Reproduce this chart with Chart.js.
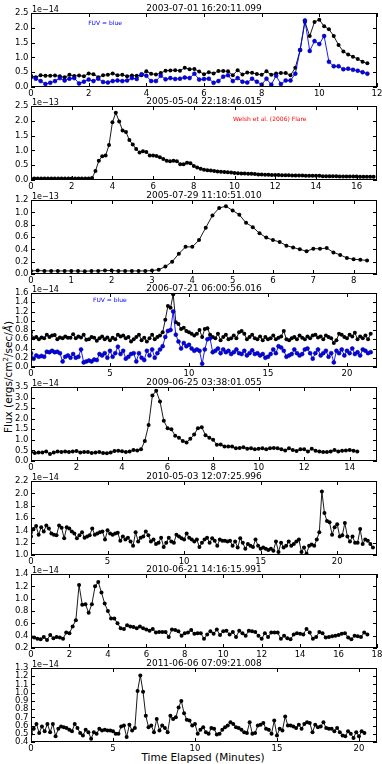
<!DOCTYPE html>
<html><head><meta charset="utf-8">
<script src="https://cdn.jsdelivr.net/npm/chart.js@4.4.1/dist/chart.umd.min.js"></script>
<style>
html,body{margin:0;padding:0;background:#fff}
body{width:382px;height:764px;overflow:hidden;position:relative;font-family:"DejaVu Sans",sans-serif}
canvas{position:absolute;left:0}
.axl{position:absolute;white-space:nowrap;font-size:10.5px;color:#000;transform:translate(-50%,-50%)}
.axl sup{font-size:7px;vertical-align:4px;line-height:0}
</style></head><body>
<div class="axl" style="left:203px;top:757px">Time Elapsed (Minutes)</div>
<div class="axl" style="left:8px;top:377px;transform:translate(-50%,-50%) rotate(-90deg)">Flux (ergs/cm<sup>2</sup>/sec/<i>Å</i>)</div>
<script>
// sampling cadence of the light curves (10 s bins), minutes
const CADENCE_MIN = 1/6;

const titles = ['2003-07-01 16:20:11.099','2005-05-04 22:18:46.015','2005-07-29 11:10:51.010','2006-07-21 06:00:56.016',
  '2009-06-25 03:38:01.055','2010-05-03 12:07:25.996','2010-06-21 14:16:15.991','2011-06-06 07:09:21.008'];
const offsetTexts = ['1e\u221214','1e\u221213','1e\u221213','1e\u221214','1e\u221214','1e\u221214','1e\u221214','1e\u221214'];

// Panel 1 (units 1e-14)
const p1NUV = [0.38,0.33,0.40,0.38,0.38,0.39,0.36,0.33,0.41,0.37,0.39,0.36,0.46,0.43,0.33,0.40,0.41,0.46,0.40,0.41,0.36,0.39,0.38,
  0.40,0.53,0.45,0.42,0.47,0.55,0.56,0.57,0.55,0.65,0.60,0.61,0.52,0.43,0.50,0.46,0.54,0.54,0.53,0.40,0.57,0.42,0.49,0.48,0.44,0.41,0.53,0.41,0.46,0.47,0.47,
  0.40,0.65,1.25,2.20,1.72,2.20,2.27,2.05,1.95,1.72,1.42,1.20,1.10,1.02,0.95,0.85,0.80];
const p1FUV = [0.33,0.28,0.20,0.10,0.14,0.20,0.30,0.22,0.28,0.30,0.12,0.18,0.25,0.20,0.28,0.17,0.15,0.20,0.22,0.20,0.22,0.30,0.27,
  0.43,0.38,0.20,0.20,0.38,0.26,0.30,0.27,0.28,0.32,0.30,0.45,0.25,0.27,0.28,0.14,0.20,0.35,0.40,0.20,0.30,0.18,0.15,0.28,0.18,0.08,0.28,0.08,0.38,0.10,0.22,
  0.22,0.45,1.25,2.25,1.22,1.55,1.45,1.72,0.85,0.70,0.70,0.60,0.62,0.58,0.55,0.50,0.45];
// Panel 2 (units 1e-13)
const p2NUV = [0.05,0.05,0.05,0.05,0.05,0.05,0.05,0.05,0.05,0.05,0.05,0.05,0.05,0.05,0.05,0.05,0.05,0.05,
  0.07,0.30,0.65,0.80,0.83,1.18,1.95,2.27,1.98,1.67,1.62,1.35,1.20,1.05,0.93,0.97,0.95,0.83,0.83,0.81,0.77,0.71,0.65,0.63,0.65,0.63,0.53,0.53,0.58,0.57,
  0.47,0.42,0.38,0.35,0.33,0.32, 0.30,0.29,0.28,0.27,0.26,0.25, 0.24,0.23,0.22,0.22,0.21,0.21,
  0.20,0.19,0.19,0.18,0.18,0.17, 0.17,0.17,0.16,0.16,0.16,0.15, 0.15,0.15,0.15,0.14,0.14,0.14,
  0.14,0.14,0.13,0.13,0.13,0.13, 0.13,0.12,0.12,0.12,0.12,0.12, 0.12,0.11,0.11,0.11,0.11,0.11];
// Panel 3 (units 1e-13)
const p3NUV = [0.05,0.055,0.05,0.05,0.05,0.05,0.05,0.05,0.045,0.05,0.05,0.055,0.055,0.05,0.05,0.05,0.05,0.05,0.055,
  0.07,0.12,0.20,0.33,0.44,0.44,0.55,0.75,0.95,1.07,1.10,1.03,0.96,0.83,0.76,0.66,0.59,0.55,0.52,0.46,0.43,0.40,0.37,0.41,0.41,0.42,0.35,0.31,0.26,0.24,0.23,0.22];
// Panel 4 (units 1e-14)
const p4NUV = [
  0.75,0.62,0.65,0.60,0.64,0.62, 0.70,0.65,0.68,0.69,0.60,0.64, 0.62,0.66,0.63,0.63,0.71,0.62,
  0.66,0.64,0.70,0.59,0.60,0.65, 0.63,0.57,0.62,0.66,0.60,0.64, 0.58,0.63,0.60,0.70,0.66,0.68,
  0.62,0.65,0.55,0.60,0.65,0.70, 0.58,0.63,0.55,0.62,0.70,0.60, 0.65,0.68,0.75,1.02,1.32,1.28,
  1.57,0.97,0.93,0.82,0.85,0.78, 0.75,0.72,0.68,0.72,0.80,0.65, 0.82,0.84,0.70,0.65,0.62,0.72,
  0.58,0.65,0.70,0.60,0.62,0.68, 0.62,0.75,0.78,0.72,0.60,0.65, 0.70,0.62,0.60,0.66,0.58,0.65,
  0.60,0.62,0.68,0.60,0.63,0.66, 0.78,0.60,0.58,0.62,0.65,0.60, 0.68,0.63,0.60,0.66,0.62,0.68,
  0.70,0.64,0.66,0.60,0.68,0.65, 0.62,0.52,0.58,0.72,0.70,0.65, 0.62,0.70,0.66,0.74,0.60,0.66,
  0.62,0.68,0.60,0.72];
const p4FUV = [
  0.30,0.18,0.25,0.22,0.24,0.22, 0.33,0.32,0.35,0.32,0.33,0.30, 0.12,0.22,0.25,0.20,0.28,0.20,
  0.22,0.38,0.10,0.12,0.14,0.12, 0.16,0.15,0.28,0.25,0.30,0.20, 0.35,0.22,0.30,0.44,0.28,0.35,
  0.18,0.22,0.28,0.30,0.12,0.30, 0.20,0.15,0.35,0.25,0.38,0.20, 0.30,0.38,0.45,0.65,0.78,0.80,
  1.20,0.70,0.55,0.40,0.52,0.45, 0.48,0.40,0.35,0.38,0.35,0.07, 0.38,0.60,0.62,0.32,0.35,0.40,
  0.30,0.38,0.32,0.35,0.28,0.32, 0.38,0.30,0.28,0.35,0.25,0.30, 0.36,0.28,0.30,0.25,0.28,0.20,
  0.22,0.28,0.38,0.30,0.45,0.42, 0.35,0.22,0.25,0.28,0.38,0.30, 0.25,0.28,0.38,0.40,0.30,0.18,
  0.30,0.38,0.25,0.30,0.35,0.22, 0.30,0.10,0.35,0.30,0.38,0.25, 0.35,0.30,0.40,0.28,0.32,0.25,
  0.38,0.35,0.30,0.32];
// Panel 5 (units 1e-14)
const p5NUV = [
  0.42,0.38,0.40,0.40,0.45,0.33, 0.40,0.45,0.42,0.45,0.43,0.45, 0.47,0.40,0.42,0.43,0.38,0.40,
  0.42,0.38,0.37,0.40,0.47,0.48, 0.46,0.42,0.45,0.52,0.50,0.55, 0.95,1.70,3.10,3.32,2.82,1.90,
  1.55,1.50,1.20,1.10,0.95,0.88, 1.05,1.25,1.55,1.60,1.22,1.10, 1.00,0.77,0.78,0.68,0.68,0.68,
  0.60,0.62,0.65,0.58,0.60,0.55, 0.58,0.60,0.55,0.60,0.62,0.60, 0.55,0.50,0.60,0.52,0.47,0.55,
  0.55,0.45,0.58,0.48,0.45,0.43, 0.42,0.45,0.52,0.45,0.48,0.50, 0.52,0.48,0.45];
// Panel 6 (units 1e-14)
const p6NUV = [
  1.30,1.42,1.47,1.33,1.45,1.38, 1.48,1.43,1.35,1.33,1.32,1.48, 1.44,1.27,1.45,1.43,1.38,1.35,
  1.27,1.32,1.37,1.28,1.30,1.32, 1.43,1.33,1.35,1.37,1.38,1.25, 1.40,1.35,1.33,1.35,1.36,1.23,
  1.30,1.25,1.28,1.22,1.15,1.37, 1.22,1.28,1.30,1.38,1.32,1.22, 1.25,1.18,1.20,1.28,1.13,1.20,
  1.28,1.22,1.20,1.33,1.30,1.27, 1.25,1.35,1.28,1.25,1.22,1.25, 1.13,1.20,1.25,1.28,1.20,1.27,
  1.23,1.15,1.25,1.23,1.23,1.22, 1.23,1.15,1.22,1.12,1.27,1.20, 1.10,1.18,1.15,1.13,1.25,1.15,
  1.10,1.12,1.10,1.08,1.10,1.07, 1.22,1.05,1.20,1.12,1.15,1.22, 1.15,1.18,1.22,1.25,1.05,1.12,
  1.02,1.15,1.17,1.15,1.25,1.37, 2.03,1.68,1.55,1.53,1.33,1.45, 1.50,1.30,1.32,1.52,1.30,1.22,
  1.30,1.20,1.20,1.42,1.18,1.25, 1.23,1.18,1.12];
// Panel 7 (units 1e-14)
const p7NUV = [
  0.38,0.37,0.35,0.34,0.38,0.33, 0.41,0.36,0.38,0.37,0.35,0.45, 0.44,0.55,0.65,1.22,0.90,0.91,
  0.77,0.91,1.20,1.27,1.10,0.92, 0.80,0.68,0.68,0.60,0.52,0.51, 0.57,0.55,0.54,0.52,0.55,0.52,
  0.50,0.48,0.51,0.45,0.46,0.46, 0.46,0.38,0.50,0.49,0.47,0.40, 0.44,0.45,0.49,0.43,0.44,0.44,
  0.35,0.42,0.47,0.43,0.50,0.41, 0.47,0.48,0.42,0.46,0.38,0.48, 0.44,0.40,0.48,0.47,0.46,0.40,
  0.35,0.44,0.38,0.45,0.45,0.45, 0.35,0.40,0.36,0.34,0.42,0.44, 0.43,0.42,0.51,0.45,0.35,0.38,
  0.46,0.44,0.37,0.38,0.39,0.40, 0.41,0.43,0.44,0.37,0.34,0.40, 0.39,0.38,0.45,0.42];
// Panel 8 (units 1e-14)
const p8NUV = [
  0.50,0.56,0.62,0.51,0.59,0.53, 0.62,0.52,0.62,0.47,0.56,0.59, 0.58,0.57,0.55,0.53,0.62,0.57,
  0.51,0.48,0.55,0.52,0.44,0.52, 0.50,0.56,0.54,0.55,0.54,0.54, 0.53,0.50,0.50,0.59,0.60,0.46,
  0.61,0.54,0.57,1.02,1.21,1.01, 0.72,0.58,0.60,0.52,0.68,0.54, 0.60,0.57,0.52,0.72,0.68,0.70,
  0.82,0.90,0.75,0.67,0.66,0.60, 0.62,0.50,0.55,0.58,0.52,0.50, 0.57,0.56,0.49,0.50,0.55,0.58,
  0.60,0.64,0.62,0.58,0.57,0.55, 0.52,0.51,0.64,0.50,0.51,0.60, 0.61,0.63,0.56,0.55,0.50,0.66,
  0.48,0.56,0.54,0.71,0.60,0.60, 0.59,0.57,0.61,0.56,0.62,0.64, 0.63,0.52,0.61,0.58,0.59,0.64,
  0.57,0.56,0.56,0.53,0.57,0.52, 0.48,0.47,0.53,0.50,0.45,0.52, 0.47,0.53,0.51];

// axis ticks
const xTicks = [[0,2,4,6,8,10,12],[0,2,4,6,8,10,12,14,16],[0,1,2,3,4,5,6,7,8],[0,5,10,15,20],
  [0,2,4,6,8,10,12,14],[0,5,10,15,20],[0,2,4,6,8,10,12,14,16,18],[0,5,10,15,20]];
const yTicks = [[0,0.5,1,1.5,2,2.5],[0,0.5,1,1.5,2,2.5],[0,0.2,0.4,0.6,0.8,1.0,1.2],[0,0.2,0.4,0.6,0.8,1.0,1.2,1.4,1.6],
  [0,0.5,1,1.5,2,2.5,3,3.5],[1.0,1.2,1.4,1.6,1.8,2.0,2.2],[0.2,0.4,0.6,0.8,1.0,1.2,1.4],[0.4,0.5,0.6,0.7,0.8,0.9,1.0,1.1,1.2,1.3]];
const xMax = [12,17,8.58,21.9,15.2,22.6,18,21.1];

const nuvSeries = [p1NUV,p2NUV,p3NUV,p4NUV,p5NUV,p6NUV,p7NUV,p8NUV];
const fuvSeries = [p1FUV,null,null,p4FUV,null,null,null,null];
const notes = [
  {text:'FUV = blue', color:'#0000ff', fx:0.214, fy:0.146},null,null,
  {text:'FUV = blue', color:'#0000ff', fx:0.228, fy:0.10},null,null,null,null];
const notes2 = [null,{text:'Welsh et al. (2006) Flare', color:'#ff0000', fx:0.69, fy:0.175},null,null,null,null,null,null];

const FONT = '"DejaVu Sans", sans-serif';
const decor = {
  id:'decor',
  afterDraw(chart, args, o){
    const {ctx, chartArea:a, scales:{x,y}} = chart;
    ctx.save();
    ctx.strokeStyle='#000'; ctx.lineWidth=1;
    ctx.beginPath();
    x.ticks.forEach(t=>{const px=Math.round(x.getPixelForValue(t.value))+0.5;
      ctx.moveTo(px,a.bottom); ctx.lineTo(px,a.bottom-4); ctx.moveTo(px,a.top); ctx.lineTo(px,a.top+4);});
    y.ticks.forEach(t=>{const py=Math.round(y.getPixelForValue(t.value))+0.5;
      ctx.moveTo(a.left,py); ctx.lineTo(a.left+4,py); ctx.moveTo(a.right,py); ctx.lineTo(a.right-4,py);});
    ctx.stroke();
    ctx.strokeRect(a.left+0.5, a.top+0.5, a.right-a.left-1, a.bottom-a.top-1);
    ctx.fillStyle='#000'; ctx.textBaseline='alphabetic';
    ctx.font='9px '+FONT; ctx.textAlign='center';
    ctx.fillText(o.title, (a.left+a.right)/2, a.top-2);
    ctx.font='8px '+FONT; ctx.textAlign='left';
    ctx.fillText(o.offset, a.left+1, a.top-1.5);
    [o.note,o.note2].forEach(n=>{ if(!n) return;
      ctx.font='6px '+FONT; ctx.textAlign='center'; ctx.textBaseline='middle'; ctx.fillStyle=n.color;
      ctx.fillText(n.text, a.left+n.fx*(a.right-a.left), a.top+n.fy*(a.bottom-a.top));
    });
    ctx.restore();
  }
};

const PLOT_H = 74, TOP_PAD = 14, XAX_H = 12;
for (let i=0;i<8;i++){
  const plotTop = Math.round(12.7 + i*93.6);
  const cv = document.createElement('canvas');
  const H = TOP_PAD + PLOT_H + XAX_H;
  cv.width = 382; cv.height = H;
  cv.style.top = (plotTop - TOP_PAD) + 'px';
  document.body.appendChild(cv);
  const toPts = arr => arr.map((v,k)=>({x:k*CADENCE_MIN, y:v}));
  const datasets = [];
  if (fuvSeries[i]) datasets.push({data:toPts(fuvSeries[i]), borderColor:'#0000ff', backgroundColor:'#0000ff',
     pointBackgroundColor:'#0000ff', pointBorderColor:'#000050', pointBorderWidth:0.5, borderWidth:0.9, pointRadius:2, clip:0});
  datasets.push({data:toPts(nuvSeries[i]), borderColor:'#000', backgroundColor:'#000',
     pointBackgroundColor:'#000', pointBorderWidth:0, borderWidth:0.9, pointRadius:2, clip:0});
  const yt = yTicks[i], xt = xTicks[i];
  new Chart(cv, {
    type:'line',
    data:{datasets},
    options:{
      responsive:false, animation:false, devicePixelRatio:1,
      layout:{padding:{top:TOP_PAD,left:0,right:5,bottom:0}},
      elements:{line:{tension:0}, point:{hoverRadius:2}},
      plugins:{legend:{display:false}, tooltip:{enabled:false}, title:{display:false},
        decor:{title:titles[i], offset:offsetTexts[i], note:notes[i], note2:notes2[i]}},
      events:[],
      scales:{
        x:{type:'linear', min:0, max:xMax[i],
          grid:{display:false, drawTicks:false}, border:{display:false},
          ticks:{color:'#000', font:{family:FONT,size:8.5}, padding:2, maxRotation:0, autoSkip:false,
            callback:v=>String(v)},
          afterBuildTicks:s=>{s.ticks = xt.map(v=>({value:v}));},
          afterFit:s=>{s.height = XAX_H; s.paddingLeft=0; s.paddingRight=0;}},
        y:{type:'linear', min:yt[0], max:yt[yt.length-1],
          grid:{display:false, drawTicks:false}, border:{display:false},
          ticks:{color:'#000', font:{family:FONT,size:8.5}, padding:2.5, autoSkip:false,
            callback:v=>Number(v).toFixed(1)},
          afterBuildTicks:s=>{s.ticks = yt.map(v=>({value:v}));},
          afterFit:s=>{s.width = 31; s.paddingTop=0; s.paddingBottom=0;}}
      }
    },
    plugins:[decor]
  });
}
</script>
</body></html>
